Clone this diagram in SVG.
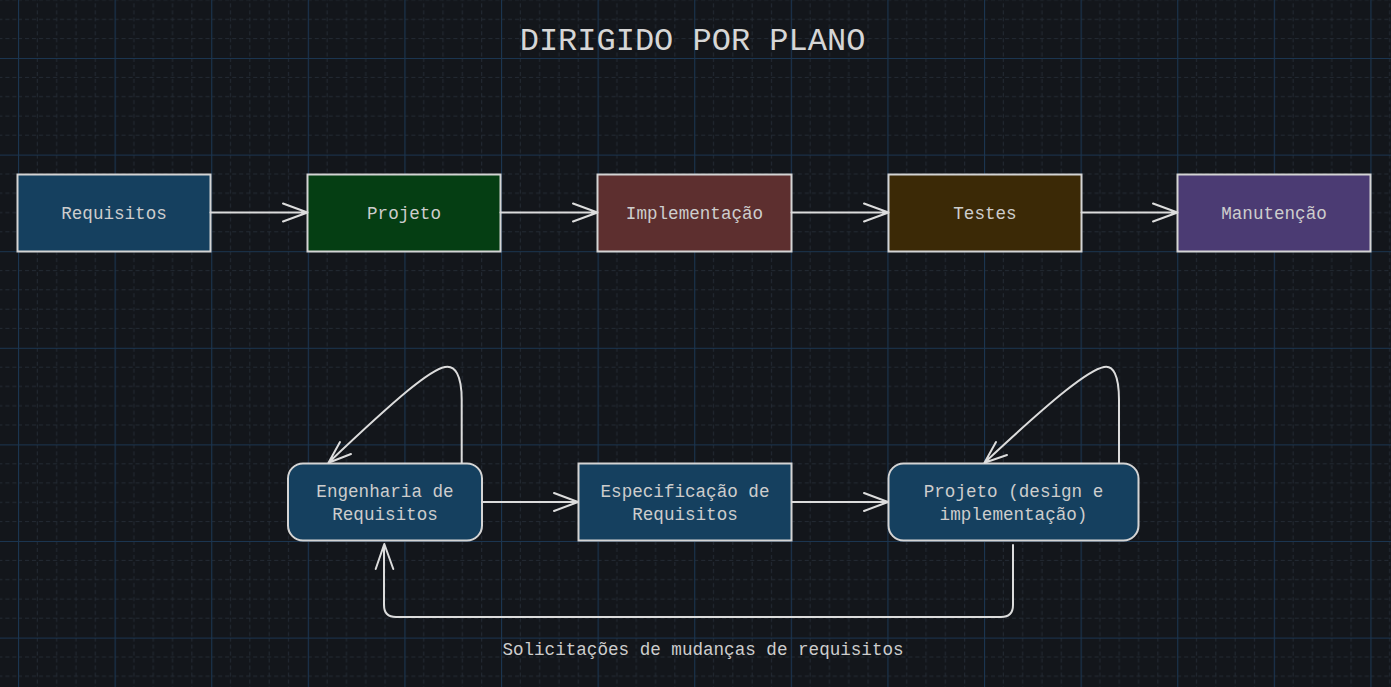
<svg xmlns="http://www.w3.org/2000/svg" width="1391" height="687" viewBox="0 0 1391 687">
<style>
.box{stroke:#d4d4d4;stroke-width:2}
.lbl{font-family:"Liberation Mono","DejaVu Sans Mono",monospace;font-size:17.6px;fill:#cdcdcd;text-anchor:middle}
.title{font-family:"Liberation Mono","DejaVu Sans Mono",monospace;font-size:32px;fill:#d6d6d6;text-anchor:middle}
.conn{fill:none;stroke:#dcdcdc;stroke-width:2;stroke-linecap:round;stroke-linejoin:round}
</style>
<defs>
<pattern id="grid" patternUnits="userSpaceOnUse" x="18" y="58" width="96.6" height="96.6">
<g stroke="#232a33" stroke-width="1" stroke-dasharray="4 3">
<line x1="19.32" y1="0" x2="19.32" y2="96.6"/>
<line x1="38.64" y1="0" x2="38.64" y2="96.6"/>
<line x1="57.96" y1="0" x2="57.96" y2="96.6"/>
<line x1="77.28" y1="0" x2="77.28" y2="96.6"/>
<line y1="19.32" x1="0" y2="19.32" x2="96.6"/>
<line y1="38.64" x1="0" y2="38.64" x2="96.6"/>
<line y1="57.96" x1="0" y2="57.96" x2="96.6"/>
<line y1="77.28" x1="0" y2="77.28" x2="96.6"/>
</g>
<g stroke="#1b3550" stroke-width="1.2">
<line x1="0.5" y1="0" x2="0.5" y2="96.6"/>
<line y1="0.5" x1="0" y2="0.5" x2="96.6"/>
</g>
</pattern>
</defs>
<rect width="1391" height="687" fill="#13161b"/>
<rect width="1391" height="687" fill="url(#grid)"/>

<text class="title" x="692.5" y="50">DIRIGIDO POR PLANO</text>

<g id="n-requisitos">
<rect class="box" x="17.5" y="174.5" width="193" height="77" fill="#15405f"/>
<text class="lbl" x="114" y="218.5">Requisitos</text>
</g>
<g id="n-projeto">
<rect class="box" x="307.5" y="174.5" width="193" height="77" fill="#053e13"/>
<text class="lbl" x="404" y="218.5">Projeto</text>
</g>
<g id="n-implementacao">
<rect class="box" x="597.5" y="174.5" width="194" height="77" fill="#5d2f2f"/>
<text class="lbl" x="694.5" y="218.5">Implementação</text>
</g>
<g id="n-testes">
<rect class="box" x="888.5" y="174.5" width="193" height="77" fill="#3b2906"/>
<text class="lbl" x="985" y="218.5">Testes</text>
</g>
<g id="n-manutencao">
<rect class="box" x="1177.5" y="174.5" width="193" height="77" fill="#4b3b73"/>
<text class="lbl" x="1274" y="218.5">Manutenção</text>
</g>

<g id="n-engenharia">
<rect class="box" x="288" y="463.5" width="194" height="77" rx="15" fill="#15405f"/>
<text class="lbl" x="385" y="496.5">Engenharia de</text>
<text class="lbl" x="385" y="520">Requisitos</text>
</g>
<g id="n-especificacao">
<rect class="box" x="578.5" y="463.5" width="213" height="77" fill="#15405f"/>
<text class="lbl" x="685" y="496.5">Especificação de</text>
<text class="lbl" x="685" y="520">Requisitos</text>
</g>
<g id="n-projeto-di">
<rect class="box" x="888.5" y="463.5" width="250" height="77" rx="15" fill="#15405f"/>
<text class="lbl" x="1013.5" y="496.5">Projeto (design e</text>
<text class="lbl" x="1013.5" y="520">implementação)</text>
</g>

<g id="connectors">
<path class="conn" d="M210.5 212.5 H307.5 M283 203.5 L307.5 212.5 L283 221.5"/>
<path class="conn" d="M500.5 212.5 H597.5 M573 203.5 L597.5 212.5 L573 221.5"/>
<path class="conn" d="M791.5 212.5 H888.5 M864 203.5 L888.5 212.5 L864 221.5"/>
<path class="conn" d="M1081.5 212.5 H1177.5 M1153 203.5 L1177.5 212.5 L1153 221.5"/>
<path class="conn" d="M482 502 H578 M554 493 L578 502 L554 511"/>
<path class="conn" d="M792 502 H888 M864 493 L888 502 L864 511"/>
<path class="conn" d="M461.7 463 L461.7 400 C461.7 375 455 365 445 367 C430 370 400 395 328.5 462.7 M340 442 L328.5 462.7 L351 454"/>
<path class="conn" d="M1119 463 L1119 400 C1119 375 1113 365 1104 367 C1089 370 1057 395 984.5 462.7 M996 442 L984.5 462.7 L1007 455"/>
<path class="conn" d="M1013 545 L1013 605 Q1013 617 1001 617 L396 617 Q384 617 384 605 L384 545 M375.7 569 L384.3 544 L393.3 569"/>
</g>

<text class="lbl" x="703" y="655">Solicitações de mudanças de requisitos</text>
</svg>
